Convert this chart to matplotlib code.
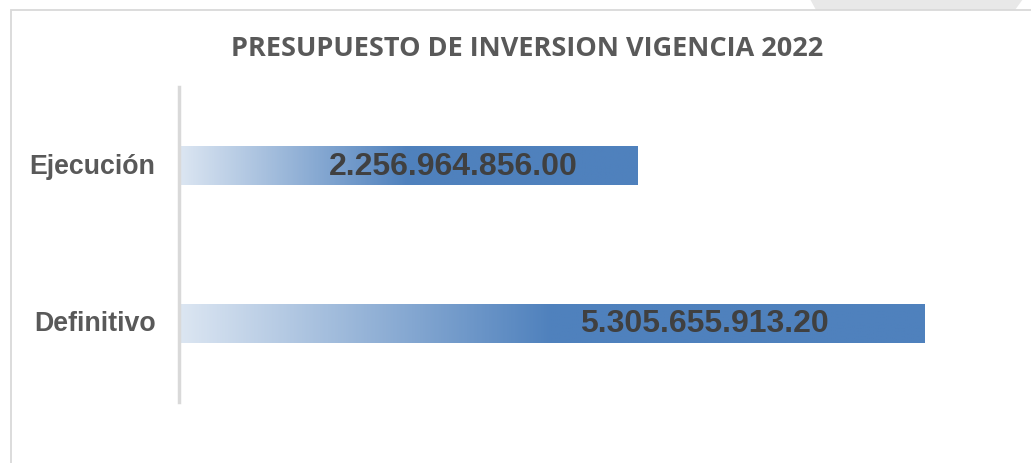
import numpy as np
import matplotlib
matplotlib.use("Agg")
import matplotlib.pyplot as plt
from matplotlib.colors import LinearSegmentedColormap
from matplotlib.patches import Polygon, Rectangle
from matplotlib.transforms import ScaledTranslation

# ---- data ----
categories = ["Definitivo", "Ejecución"]
values = [5305655913.20, 2256964856.00]
value_labels = ["5.305.655.913.20", "2.256.964.856.00"]
title = "PRESUPUESTO DE INVERSION VIGENCIA 2022"

# ---- layout / style ----
W, H = 1031, 464
DPI = 100
xmin, xmax = -2.6e9, 6.0e9
grad_frac = 0.5          # fraction of bar length where gradient reaches full colour
label_offsets_px = [-220, -184]
bar_h = 0.245

fig = plt.figure(figsize=(W / DPI, H / DPI), dpi=DPI)
fig.patch.set_facecolor("white")

# decorative gray shape at top right and chart border
fig.patches.append(Polygon([(810 / W, 1.0), (1023 / W, 1.0), (1015 / W, 1 - 11 / H), (816 / W, 1 - 11 / H)],
                           closed=True, transform=fig.transFigure, facecolor="#E8E8E8", edgecolor="none", zorder=0))
fig.patches.append(Rectangle((10.5 / W, -0.1), 1.2, 1 - 11 / H + 0.1, transform=fig.transFigure,
                             facecolor="none", edgecolor="#D9D9D9", lw=1.3, zorder=1))

ax = fig.add_axes([179 / W, (H - 403) / H, 811 / W, 315 / H])
ax.set_facecolor("none")
ax.set_xlim(xmin, xmax)
ax.set_ylim(-0.5, 1.5)

cmap = LinearSegmentedColormap.from_list("g", ["#DCE6F2", "#4F81BD"])
u = np.linspace(0, 1, 600)
grad = np.clip(u / grad_frac, 0, 1)[np.newaxis, :]

ypos = np.arange(len(categories))
bars = ax.barh(ypos, np.array(values) - xmin, left=xmin, height=bar_h, color="none", edgecolor="none")
for b, y, v in zip(bars, ypos, values):
    im = ax.imshow(grad, extent=(xmin, v, y - bar_h / 2, y + bar_h / 2), aspect="auto", cmap=cmap,
                   vmin=0, vmax=1, interpolation="bilinear", zorder=2)
    im.set_clip_path(b)

ax.set_xlim(xmin, xmax)
ax.set_ylim(-0.5, 1.5)

for y, v, lab, off in zip(ypos, values, value_labels, label_offsets_px):
    ax.annotate(lab, xy=(v, y), xytext=(off * 72 / DPI, 0), textcoords="offset points",
                ha="center", va="center", fontsize=23, fontweight="bold",
                color="#404040", family="Liberation Sans", zorder=3)

ax.set_yticks(ypos)
ax.set_yticklabels(categories, fontsize=19.3, fontweight="bold", color="#595959", family="Liberation Sans")
ax.tick_params(axis="y", length=0, pad=17)
shift = ScaledTranslation(0, 3 / DPI, fig.dpi_scale_trans)
for lbl in ax.get_yticklabels():
    lbl.set_transform(lbl.get_transform() + shift)
ax.set_xticks([])
for s in ["top", "right", "bottom"]:
    ax.spines[s].set_visible(False)
ax.spines["left"].set_color("#D9D9D9")
ax.spines["left"].set_linewidth(2.5)

fig.text(527 / W, 1 - 49 / H, title, ha="center", va="center", fontsize=19.5, fontweight="bold",
         color="#595959", family="Open Sans")

fig.savefig("out.png", dpi=DPI)
